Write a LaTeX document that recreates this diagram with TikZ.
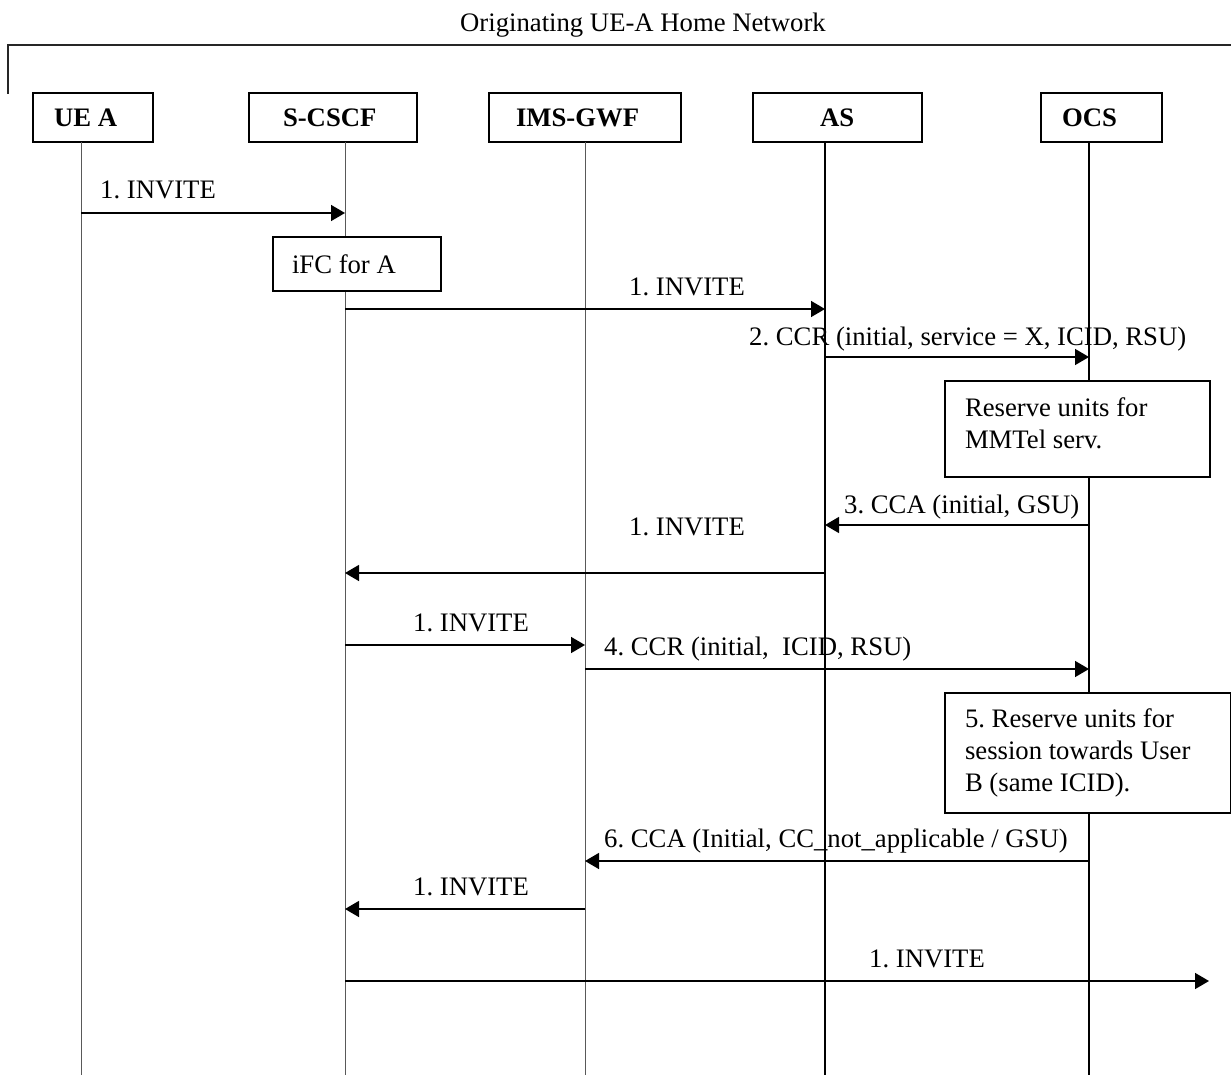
\documentclass[tikz,border=0pt]{standalone}
\usepackage{fontspec}
\setmainfont{Liberation Serif}
\usetikzlibrary{arrows.meta}
\tikzset{
  every node/.style={font=\fontsize{26.7}{32}\selectfont\frenchspacing},
  lbl/.style={anchor=base west,inner sep=0pt},
  thinlife/.style={line width=1pt,draw=black!65},
  thicklife/.style={line width=1.8pt,draw=black},
  msg/.style={line width=1.5pt,-{Triangle[length=14pt,width=16pt]}},
  frameline/.style={line width=1.7pt,draw=black!85},
  boxbase/.style={draw,line width=1.8pt,outer sep=0pt,fill=white,rectangle,anchor=north west,inner ysep=0pt,align=flush left},
  actor/.style={boxbase,font=\fontsize{26.7}{32}\selectfont\bfseries\frenchspacing,minimum height=49pt},
  note/.style={boxbase}
}
\begin{document}
\begin{tikzpicture}[x=1pt,y=-1pt]
\useasboundingbox (0,0) rectangle (1231,1075);
\path[fill=white] (0,0) rectangle (1231,1075);
\node[lbl] (title) at (460,32) {Originating UE-A Home Network};
\coordinate (fa) at (8,94);
\coordinate (fb) at (8,45);
\coordinate (fc) at (1231,45);
\draw[frameline] (fa) -- (fb) -- (fc);
% actors: width = text width + 2*inner xsep
\node[actor,inner xsep=21pt,text width=78pt] (ue) at (33,93) {UE A};
\node[actor,inner xsep=34pt,text width=100pt] (sc) at (249,93) {S-CSCF};
\node[actor,inner xsep=27pt,text width=138pt] (gw) at (489,93) {IMS-GWF};
\node[actor,inner xsep=67pt,text width=35pt] (as) at (753,93) {AS};
\node[actor,inner xsep=21pt,text width=79pt] (oc) at (1041,93) {OCS};
% lifeline ends
\coordinate (ueB) at (81,1075);
\coordinate (scB) at (345,1075);
\coordinate (gwB) at (585,1075);
\coordinate (asB) at (825,1075);
\coordinate (ocB) at (1089,1075);
\coordinate (outE) at (1209,1075);
\draw[thinlife] (ue.south -| ueB) -- (ueB);
\draw[thinlife] (sc.south -| scB) -- (scB);
\draw[thinlife] (gw.south -| gwB) -- (gwB);
\draw[thicklife] (as.south -| asB) -- (asB);
\draw[thicklife] (oc.south -| ocB) -- (ocB);
% notes
\node[note,inner xsep=19pt,text width=130pt,minimum height=54pt] (ifc) at (273,237) {iFC for A};
\node[note,inner xsep=20pt,text width=225pt,minimum height=96pt] (res1) at (945,381) {Reserve units for\\MMTel serv.\\[-20pt]\mbox{}};
\node[note,inner xsep=20pt,text width=246pt,minimum height=120pt] (res2) at (945,693) {5. Reserve units for\\session towards User\\B (same ICID).};
% messages
\draw[msg] (ueB |- 0,213) -- (scB |- 0,213);
\draw[msg] (scB |- 0,309) -- (asB |- 0,309);
\draw[msg] (asB |- 0,357) -- (ocB |- 0,357);
\draw[msg] (ocB |- 0,525) -- (asB |- 0,525);
\draw[msg] (asB |- 0,573) -- (scB |- 0,573);
\draw[msg] (scB |- 0,645) -- (gwB |- 0,645);
\draw[msg] (gwB |- 0,669) -- (ocB |- 0,669);
\draw[msg] (ocB |- 0,861) -- (gwB |- 0,861);
\draw[msg] (gwB |- 0,909) -- (scB |- 0,909);
\draw[msg] (scB |- 0,981) -- (outE |- 0,981);
% labels
\node[lbl] (m1) at (100,199) {1. INVITE};
\node[lbl] (m2) at (629,295) {1. INVITE};
\node[lbl] (m3) at (749,345) {2. CCR (initial, service = X, ICID, RSU)};
\node[lbl] (m4) at (844,513) {3. CCA (initial, GSU)};
\node[lbl] (m5) at (629,535) {1. INVITE};
\node[lbl] (m6) at (413,631) {1. INVITE};
\node[lbl] (m7) at (604,655) {4. CCR (initial,\ \ ICID, RSU)};
\node[lbl] (m8) at (604,847) {6. CCA (Initial, CC\_not\_applicable / GSU)};
\node[lbl] (m9) at (413,895) {1. INVITE};
\node[lbl] (m10) at (869,967) {1. INVITE};
\end{tikzpicture}
\end{document}
